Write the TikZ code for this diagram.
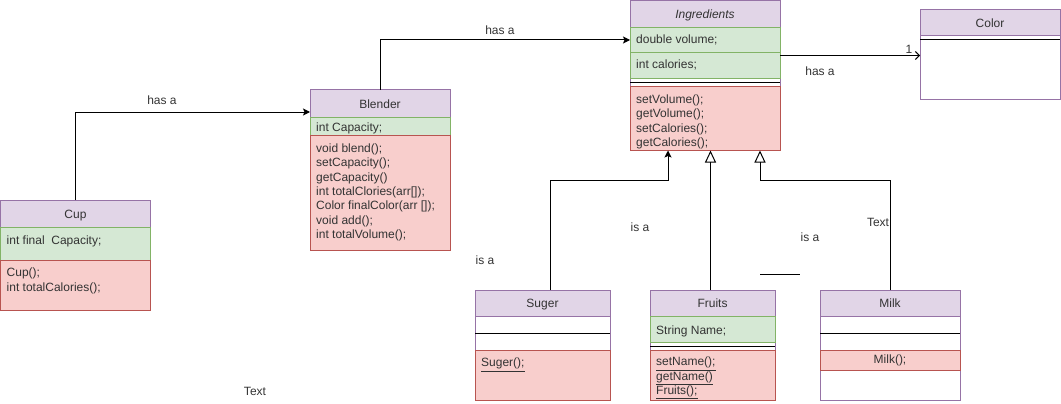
\documentclass[tikz,border=0pt]{standalone}
\usepackage{fontspec}
\setmainfont{Liberation Sans}
\usepackage{tikz}
\usetikzlibrary{positioning, arrows.meta}
\newcommand{\umlfont}{\fontsize{12}{14.4}\selectfont}
\definecolor{headFill}{HTML}{E1D5E7}
\definecolor{headLine}{HTML}{9673A6}
\definecolor{attrFill}{HTML}{D5E8D4}
\definecolor{attrLine}{HTML}{82B366}
\definecolor{methFill}{HTML}{F8CECC}
\definecolor{methLine}{HTML}{B85450}
\definecolor{txtGray}{HTML}{333333}
\tikzstyle{classBox} = [rectangle, draw=headLine, fill=white, line width=1pt, anchor=north west, inner sep=0pt, outer sep=0pt]
\tikzstyle{classHead} = [rectangle, draw=headLine, fill=headFill, line width=1pt, minimum height=26pt, inner sep=0pt, outer sep=0pt, font=\umlfont, text=txtGray, text height=11.5pt, text depth=2.5pt]
\tikzstyle{attrBox} = [rectangle, draw=attrLine, fill=attrFill, line width=1pt, inner sep=0pt, outer sep=0pt]
\tikzstyle{methBox} = [rectangle, draw=methLine, fill=methFill, line width=1pt, inner sep=0pt, outer sep=0pt]
\tikzstyle{gapBox} = [rectangle, inner sep=0pt, outer sep=0pt]
\tikzstyle{member} = [anchor=north west, inner sep=0pt, align=left, font=\umlfont, text=txtGray]
\tikzstyle{lbl} = [inner sep=0pt, font=\umlfont, text=txtGray]
\tikzstyle{sepLine} = [line width=1pt, black]
\tikzstyle{assoc} = [line width=1pt, -{Stealth[length=7pt, width=7pt, inset=1.5pt]}]
\tikzstyle{inherit} = [line width=1pt, -{Triangle[open, length=12pt, width=11pt]}]

\begin{document}
\begin{tikzpicture}[x=1pt, y=-1pt]
    \useasboundingbox (0,0) rectangle (1061,404);
    % Cup
    \node[classHead, minimum width=150pt, minimum height=27pt, anchor=north west] (cupHead) at (0.5,200) {Cup};
    \node[attrBox, minimum width=150pt, minimum height=33pt, below=0pt of cupHead] (cupAttr) {};
    \node[methBox, minimum width=150pt, minimum height=50pt, below=0pt of cupAttr] (cupMeth) {};
    \node[member] (cupAttrT) at ([xshift=6pt, yshift=-8.5pt]cupAttr.north west) {int final\ \ Capacity;};
    \node[member] (cupMethT) at ([xshift=6pt, yshift=-8pt]cupMeth.north west) {Cup();\\int totalCalories();};
    % Blender
    \node[classHead, minimum width=140pt, minimum height=27pt, anchor=north west] (blendHead) at (310,90) {Blender};
    \node[attrBox, minimum width=140pt, minimum height=18pt, below=0pt of blendHead] (blendAttr) {};
    \node[methBox, minimum width=140pt, minimum height=115pt, below=0pt of blendAttr] (blendMeth) {};
    \node[member] (blendAttrT) at ([xshift=6pt, yshift=-6pt]blendAttr.north west) {int Capacity;};
    \node[member] (blendMethT) at ([xshift=6pt, yshift=-8.5pt]blendMeth.north west) {void blend();\\setCapacity();\\getCapacity()\\int totalClories(arr[]);\\Color finalColor(arr []);\\void add();\\int totalVolume();};
    % Ingredients
    \node[classBox, minimum width=150pt, minimum height=150pt] (ingBox) at (630,0.5) {};
    \node[classHead, minimum width=150pt, minimum height=27pt, anchor=north west] (ingHead) at (ingBox.north west) {\textit{Ingredients}};
    \node[attrBox, minimum width=150pt, minimum height=25pt, below=0pt of ingHead] (ingVol) {};
    \node[attrBox, minimum width=150pt, minimum height=26pt, below=0pt of ingVol] (ingCal) {};
    \node[gapBox, minimum width=150pt, minimum height=8pt, below=0pt of ingCal] (ingGap) {};
    \node[methBox, minimum width=150pt, minimum height=64pt, below=0pt of ingGap] (ingMeth) {};
    \draw[sepLine] (ingGap.west) -- (ingGap.east);
    \node[member] (ingVolT) at ([xshift=6pt, yshift=-7.5pt]ingVol.north west) {double volume;};
    \node[member] (ingCalT) at ([xshift=6pt, yshift=-7.5pt]ingCal.north west) {int calories;};
    \node[member] (ingMethT) at ([xshift=6pt, yshift=-8pt]ingMeth.north west) {setVolume();\\getVolume();\\setCalories();\\getCalories();};
    % Color
    \node[classBox, minimum width=140pt, minimum height=90pt] (colBox) at (920,10) {};
    \node[classHead, minimum width=140pt, anchor=north west] (colHead) at (colBox.north west) {Color};
    \node[gapBox, minimum width=140pt, minimum height=8pt, below=0pt of colHead] (colGap) {};
    \draw[sepLine] (colGap.west) -- (colGap.east);
    % Suger
    \node[classBox, minimum width=135pt, minimum height=110pt] (sugBox) at (475,290) {};
    \node[classHead, minimum width=135pt, anchor=north west] (sugHead) at (sugBox.north west) {Suger};
    \node[gapBox, minimum width=135pt, minimum height=34pt, below=0pt of sugHead] (sugGap) {};
    \node[methBox, minimum width=135pt, minimum height=50pt, below=0pt of sugGap] (sugMeth) {};
    \draw[sepLine] (sugGap.west) -- (sugGap.east);
    \node[member] (sugMethT) at ([xshift=6pt, yshift=-8pt]sugMeth.north west) {\underline{Suger();}};
    % Fruits
    \node[classBox, minimum width=125pt, minimum height=110pt] (fruBox) at (650,290) {};
    \node[classHead, minimum width=125pt, anchor=north west] (fruHead) at (fruBox.north west) {Fruits};
    \node[attrBox, minimum width=125pt, minimum height=26pt, below=0pt of fruHead] (fruName) {};
    \node[gapBox, minimum width=125pt, minimum height=8pt, below=0pt of fruName] (fruGap) {};
    \node[methBox, minimum width=125pt, minimum height=50pt, below=0pt of fruGap] (fruMeth) {};
    \draw[sepLine] (fruGap.west) -- (fruGap.east);
    \node[member] (fruNameT) at ([xshift=6pt, yshift=-9.5pt]fruName.north west) {String Name;};
    \node[member] (fruMethT) at ([xshift=6pt, yshift=-7pt]fruMeth.north west) {\underline{setName();}\\\underline{getName()}\\\underline{Fruits();}};
    % Milk
    \node[classBox, minimum width=140pt, minimum height=110pt] (milkBox) at (820,290) {};
    \node[classHead, minimum width=140pt, anchor=north west] (milkHead) at (milkBox.north west) {Milk};
    \node[gapBox, minimum width=140pt, minimum height=34pt, below=0pt of milkHead] (milkGap) {};
    \node[methBox, minimum width=140pt, minimum height=20pt, below=0pt of milkGap, font=\umlfont, text=txtGray, text height=8.5pt, text depth=1.5pt] (milkMeth) {Milk();};
    \draw[sepLine] (milkGap.west) -- (milkGap.east);
    % connectors
    \draw[assoc] (cupHead.north) |- ([yshift=-8.5pt]blendHead.west);
    \draw[assoc] (blendHead.north) |- (ingVol.west);
    \draw[line width=1pt, -{Straight Barb[length=4pt, width=8pt]}] ([yshift=-3pt]ingVol.south east) -- ([yshift=-3pt]ingVol.south east -| colBox.west);
    \draw[assoc] ([xshift=7.5pt]sugHead.north) -- ++(0,-110) -| ([xshift=-37pt]ingMeth.south);
    \draw[inherit] ([xshift=-2pt]fruHead.north) -- ([xshift=-2pt]fruHead.north |- ingMeth.south);
    \draw[inherit] (milkHead.north) -- ++(0,-110) -| ([xshift=55pt]ingMeth.south);
    \coordinate (strayA) at (760,274);
    \coordinate (strayB) at (800,274);
    \draw[line width=1pt] (strayA) -- (strayB);
    % labels
    \node[lbl] (cupHasA) at (162,100) {has a};
    \node[lbl] (blendHasA) at (500,30) {has a};
    \node[lbl] (ingHasA) at (820,71) {has a};
    \node[lbl] (colMult) at (909,49) {1};
    \node[lbl] (sugIsA) at (485,260) {is a};
    \node[lbl] (fruIsA) at (640,227) {is a};
    \node[lbl] (milkIsA) at (810,237) {is a};
    \node[lbl] (milkText) at (878,222) {Text};
    \node[lbl] (freeText) at (255,391) {Text};
\end{tikzpicture}
\end{document}
